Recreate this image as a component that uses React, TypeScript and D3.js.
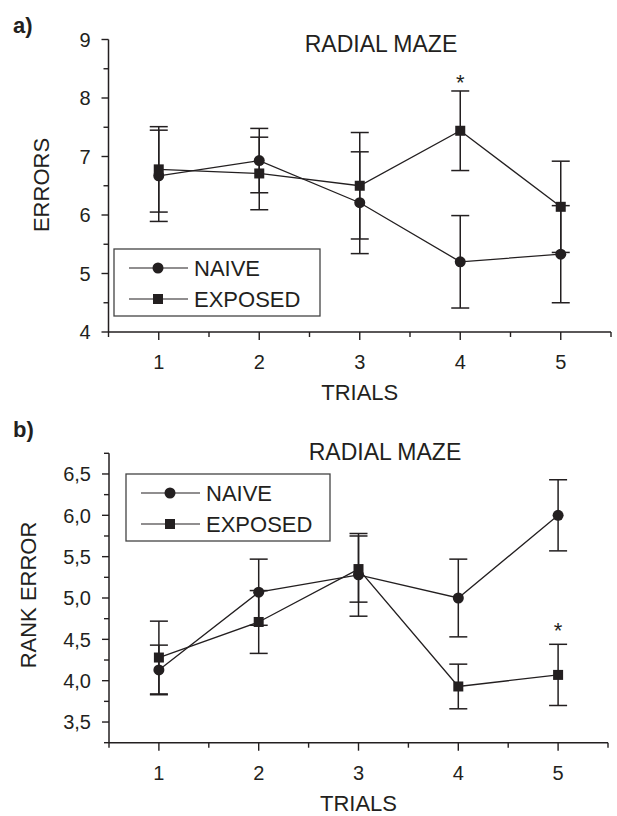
import React, { useEffect, useRef } from 'react';
import * as d3 from 'd3';

// trials on the x axis
const trials = [1, 2, 3, 4, 5];

// panel a) errors
const errorsNaive = [6.67, 6.93, 6.21, 5.2, 5.33];
const errorsNaiveSem = [0.78, 0.55, 0.87, 0.79, 0.83];
const errorsExposed = [6.78, 6.71, 6.5, 7.44, 6.14];
const errorsExposedSem = [0.73, 0.62, 0.91, 0.68, 0.78];
const errorTicks = [4, 5, 6, 7, 8, 9];

// panel b) rank error
const rankNaive = [4.13, 5.07, 5.28, 5.0, 6.0];
const rankNaiveSem = [0.3, 0.4, 0.5, 0.47, 0.43];
const rankExposed = [4.28, 4.71, 5.35, 3.93, 4.07];
const rankExposedSem = [0.44, 0.38, 0.4, 0.27, 0.37];
const rankTicks = [3.5, 4.0, 4.5, 5.0, 5.5, 6.0, 6.5];

const seriesNames = ['NAIVE', 'EXPOSED'];

const INK = '#231f20';
const FONT = '"Liberation Sans", Arial, sans-serif';

const App = () => {
  const svgRef = useRef(null);

  useEffect(() => {
    const svg = d3.select(svgRef.current);
    svg.selectAll('*').remove();

    const panels = [
      {
        tag: 'a)', tagY: 33,
        yLabel: 'ERRORS', yLabelX: 41, yLabelY: 185,
        yDomain: [4, 9], yRange: [332, 39.5], xRange: [108.5, 611],
        ticks: errorTicks, minorStep: 0.5, fmt: d => String(d),
        naive: errorsNaive, naiveSem: errorsNaiveSem,
        exposed: errorsExposed, exposedSem: errorsExposedSem,
        star: 3, // index into trials, exposed series
        starGap: 1,
        title: { x: 381, y: 52 },
        legend: { x: 114, y: 249, w: 206, h: 67 },
      },
      {
        tag: 'b)', tagY: 437,
        yLabel: 'RANK ERROR', yLabelX: 28, yLabelY: 595,
        yDomain: [3.25, 6.75], yRange: [742.7, 453.3], xRange: [109, 608],
        ticks: rankTicks, minorStep: 0.25, fmt: d => d3.format('.1f')(d).replace('.', ','),
        naive: rankNaive, naiveSem: rankNaiveSem,
        exposed: rankExposed, exposedSem: rankExposedSem,
        star: 4,
        starGap: 6,
        title: { x: 385, y: 460 },
        legend: { x: 126, y: 474, w: 204, h: 67 },
      },
    ];

    panels.forEach(p => {
      const g = svg.append('g');
      const x = d3.scaleLinear().domain([0.5, 5.5]).range(p.xRange);
      const y = d3.scaleLinear().domain(p.yDomain).range(p.yRange);
      const x0 = p.xRange[0];
      const yBase = p.yRange[0];

      // panel tag
      g.append('text')
        .attr('x', 13).attr('y', p.tagY)
        .style('font', `bold 22px ${FONT}`).attr('fill', INK)
        .text(p.tag);

      // axes lines
      g.append('line')
        .attr('x1', x0).attr('x2', x0)
        .attr('y1', p.yRange[0]).attr('y2', p.yRange[1])
        .attr('stroke', INK).attr('stroke-width', 1.5);
      g.append('line')
        .attr('x1', x0).attr('x2', p.xRange[1])
        .attr('y1', yBase).attr('y2', yBase)
        .attr('stroke', INK).attr('stroke-width', 1.5);

      // y ticks
      const minor = d3.range(p.yDomain[0], p.yDomain[1] + 1e-6, p.minorStep)
        .filter(v => !p.ticks.some(t => Math.abs(t - v) < 1e-6));
      g.selectAll('.ymaj').data(p.ticks).join('line')
        .attr('x1', x0 - 7).attr('x2', x0)
        .attr('y1', d => y(d)).attr('y2', d => y(d))
        .attr('stroke', INK).attr('stroke-width', 1.4);
      g.selectAll('.ymin').data(minor).join('line')
        .attr('x1', x0 - 5).attr('x2', x0)
        .attr('y1', d => y(d)).attr('y2', d => y(d))
        .attr('stroke', INK).attr('stroke-width', 1.4);
      g.selectAll('.ylab').data(p.ticks).join('text')
        .attr('x', x0 - 18).attr('y', d => y(d)).attr('dy', '0.36em')
        .attr('text-anchor', 'end')
        .style('font', `20px ${FONT}`).attr('fill', INK)
        .text(p.fmt);

      // x ticks
      const xMinor = d3.range(0.5, 5.51, 1);
      g.selectAll('.xmaj').data(trials).join('line')
        .attr('x1', d => x(d)).attr('x2', d => x(d))
        .attr('y1', yBase).attr('y2', yBase + 8)
        .attr('stroke', INK).attr('stroke-width', 1.4);
      g.selectAll('.xmin').data(xMinor).join('line')
        .attr('x1', d => x(d)).attr('x2', d => x(d))
        .attr('y1', yBase).attr('y2', yBase + 5)
        .attr('stroke', INK).attr('stroke-width', 1.4);
      g.selectAll('.xlab').data(trials).join('text')
        .attr('x', d => x(d)).attr('y', yBase + 30).attr('dy', '0.36em')
        .attr('text-anchor', 'middle')
        .style('font', `20px ${FONT}`).attr('fill', INK)
        .text(d => d);

      // axis titles
      g.append('text')
        .attr('x', x(3)).attr('y', yBase + 68)
        .attr('text-anchor', 'middle')
        .style('font', `22px ${FONT}`).attr('fill', INK)
        .text('TRIALS');
      g.append('text')
        .attr('transform', `translate(${p.yLabelX},${p.yLabelY}) rotate(-90)`)
        .attr('dy', '0.36em')
        .attr('text-anchor', 'middle')
        .style('font', `22px ${FONT}`).attr('fill', INK)
        .text(p.yLabel);

      // title
      g.append('text')
        .attr('x', p.title.x).attr('y', p.title.y)
        .attr('text-anchor', 'middle')
        .style('font', `23px ${FONT}`).attr('fill', INK)
        .text('RADIAL MAZE');

      const series = [
        { vals: p.naive, sem: p.naiveSem, shape: 'circle' },
        { vals: p.exposed, sem: p.exposedSem, shape: 'square' },
      ];

      // error bars
      series.forEach(s => {
        const eb = g.append('g').attr('stroke', INK).attr('stroke-width', 1.5);
        trials.forEach((t, i) => {
          const lo = y(s.vals[i] - s.sem[i]);
          const hi = y(s.vals[i] + s.sem[i]);
          eb.append('line').attr('x1', x(t)).attr('x2', x(t)).attr('y1', lo).attr('y2', hi);
          eb.append('line').attr('x1', x(t) - 9).attr('x2', x(t) + 9).attr('y1', lo).attr('y2', lo);
          eb.append('line').attr('x1', x(t) - 9).attr('x2', x(t) + 9).attr('y1', hi).attr('y2', hi);
        });
      });

      // connecting lines
      const line = d3.line().x((d, i) => x(trials[i])).y(d => y(d));
      series.forEach(s => {
        g.append('path')
          .attr('d', line(s.vals))
          .attr('fill', 'none').attr('stroke', INK).attr('stroke-width', 1.3);
      });

      // markers
      series.forEach(s => {
        if (s.shape === 'circle') {
          g.selectAll(null).data(s.vals).join('circle')
            .attr('cx', (d, i) => x(trials[i])).attr('cy', d => y(d))
            .attr('r', 5.5).attr('fill', INK);
        } else {
          g.selectAll(null).data(s.vals).join('rect')
            .attr('x', (d, i) => x(trials[i]) - 5).attr('y', d => y(d) - 5)
            .attr('width', 10).attr('height', 10).attr('fill', INK);
        }
      });

      // significance mark
      const si = p.star;
      g.append('text')
        .attr('x', x(trials[si])).attr('y', y(p.exposed[si] + p.exposedSem[si]) - p.starGap)
        .attr('text-anchor', 'middle')
        .style('font', `22px ${FONT}`).attr('fill', INK)
        .text('*');

      // legend
      const L = p.legend;
      const lg = g.append('g').attr('transform', `translate(${L.x},${L.y})`);
      lg.append('rect')
        .attr('width', L.w).attr('height', L.h)
        .attr('fill', '#fff').attr('stroke', '#444').attr('stroke-width', 1.3);
      seriesNames.forEach((name, i) => {
        const cy = 19 + i * 31;
        lg.append('line')
          .attr('x1', 15).attr('x2', 74).attr('y1', cy).attr('y2', cy)
          .attr('stroke', INK).attr('stroke-width', 1.2);
        if (i === 0) {
          lg.append('circle').attr('cx', 44).attr('cy', cy).attr('r', 5.5).attr('fill', INK);
        } else {
          lg.append('rect').attr('x', 39).attr('y', cy - 5).attr('width', 10).attr('height', 10).attr('fill', INK);
        }
        lg.append('text')
          .attr('x', 80).attr('y', cy).attr('dy', '0.36em')
          .style('font', `22px ${FONT}`).attr('fill', INK)
          .text(name);
      });
    });
  }, []);

  return (
    <svg
      ref={svgRef}
      width={617}
      height={816}
      style={{ position: 'absolute', left: 0, top: 0, background: '#fff' }}
    />
  );
};

export default App;
